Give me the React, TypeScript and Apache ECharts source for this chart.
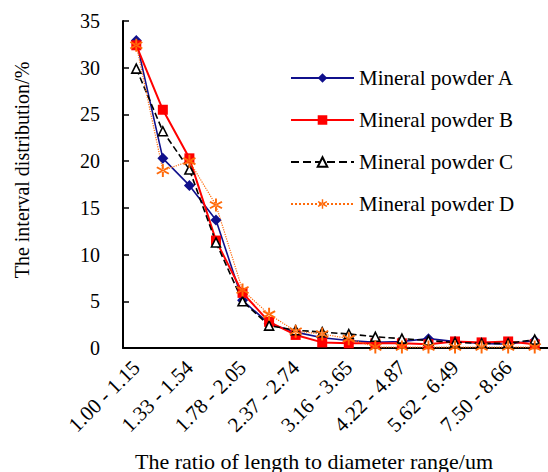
import React, { useEffect, useRef } from "react";
import * as echarts from "echarts";

const FONT = '"Liberation Serif", "Times New Roman", serif';

const categories = [
  "1.00 - 1.15", "1.15 - 1.33", "1.33 - 1.54", "1.54 - 1.78",
  "1.78 - 2.05", "2.05 - 2.37", "2.37 - 2.74", "2.74 - 3.16",
  "3.16 - 3.65", "3.65 - 4.22", "4.22 - 4.87", "4.87 - 5.62",
  "5.62 - 6.49", "6.49 - 7.50", "7.50 - 8.66", "8.66 - 10.00",
];

const powderA = [32.9, 20.3, 17.4, 13.7, 5.1, 2.6, 1.7, 1.1, 0.8, 0.6, 0.7, 1.0, 0.7, 0.5, 0.4, 0.8];
const powderB = [32.4, 25.5, 20.3, 11.5, 5.9, 2.8, 1.4, 0.6, 0.5, 0.5, 0.5, 0.4, 0.7, 0.6, 0.7, 0.4];
const powderC = [29.9, 23.2, 19.1, 11.3, 5.0, 2.4, 1.9, 1.7, 1.5, 1.2, 1.0, 0.8, 0.6, 0.5, 0.5, 0.9];
const powderD = [32.4, 19.0, 20.0, 15.3, 6.2, 3.6, 1.8, 1.5, 1.0, 0.1, 0.1, 0.1, 0.1, 0.1, 0.1, 0.1];

const seriesNames = ["Mineral powder A", "Mineral powder B", "Mineral powder C", "Mineral powder D"];
const yTicks = { min: 0, max: 35, interval: 5 };

// six-armed asterisk marker
const ASTERISK =
  "path://M-1.4,-10L1.4,-10L1.4,10L-1.4,10Z" +
  "M7.96,6.21L9.36,3.79L-7.96,-6.21L-9.36,-3.79Z" +
  "M9.36,-3.79L7.96,-6.21L-9.36,3.79L-7.96,6.21Z";

export default function App() {
  const ref = useRef<HTMLDivElement>(null);

  useEffect(() => {
    if (!ref.current) return;
    const chart = echarts.init(ref.current, null, { renderer: "svg" });

    chart.setOption({
      animation: false,
      backgroundColor: "#fff",
      grid: { left: 123, top: 21, width: 435, height: 327 },
      legend: {
        orient: "vertical",
        left: 285,
        top: 62,
        itemWidth: 63,
        itemHeight: 12,
        itemGap: 20,
        data: seriesNames,
        textStyle: { color: "#000", fontFamily: FONT, fontSize: 21, lineHeight: 22 },
      },
      xAxis: {
        type: "category",
        data: categories,
        boundaryGap: true,
        axisLine: { lineStyle: { color: "#000", width: 2 } },
        axisTick: { inside: true, length: 5, interval: 0, lineStyle: { color: "#000", width: 1.5 } },
        axisLabel: {
          color: "#000",
          fontFamily: FONT,
          fontSize: 21,
          interval: 1,
          rotate: 45,
          margin: 16,
        },
        splitLine: { show: false },
      },
      yAxis: {
        type: "value",
        min: yTicks.min,
        max: yTicks.max,
        interval: yTicks.interval,
        axisLine: { show: true, lineStyle: { color: "#000", width: 2 } },
        axisTick: { show: true, inside: true, length: 6, lineStyle: { color: "#000", width: 1.5 } },
        axisLabel: { color: "#000", fontFamily: FONT, fontSize: 20, margin: 23 },
        splitLine: { show: false },
      },
      graphic: [
        {
          type: "text",
          x: 22,
          y: 170,
          rotation: Math.PI / 2,
          style: {
            text: "The interval distribution/%",
            fill: "#000",
            font: `20px ${FONT}`,
            align: "center",
            verticalAlign: "middle",
          },
        },
        {
          type: "text",
          x: 314,
          y: 461,
          style: {
            text: "The ratio of length to diameter range/um",
            fill: "#000",
            font: `22px ${FONT}`,
            align: "center",
            verticalAlign: "middle",
          },
        },
      ],
      series: [
        {
          name: seriesNames[0],
          type: "line",
          data: powderA,
          symbol: "diamond",
          symbolSize: 11,
          lineStyle: { color: "#10108c", width: 1.6 },
          itemStyle: { color: "#10108c" },
        },
        {
          name: seriesNames[1],
          type: "line",
          data: powderB,
          symbol: "rect",
          symbolSize: 10,
          lineStyle: { color: "#ff0000", width: 2 },
          itemStyle: { color: "#ff0000" },
        },
        {
          name: seriesNames[2],
          type: "line",
          data: powderC,
          symbol: "triangle",
          symbolSize: 9,
          lineStyle: { color: "#000", width: 1.6, type: "dashed" },
          itemStyle: { color: "#fff", borderColor: "#000", borderWidth: 1.6 },
        },
        {
          name: seriesNames[3],
          type: "line",
          data: powderD,
          symbol: ASTERISK,
          symbolSize: 13,
          lineStyle: { color: "#ff6a0a", width: 1.2, type: "dotted" },
          itemStyle: { color: "#ff6a0a" },
        },
      ],
    });

    return () => chart.dispose();
  }, []);

  return <div ref={ref} style={{ width: 548, height: 472, position: "absolute", left: 0, top: 0 }} />;
}
